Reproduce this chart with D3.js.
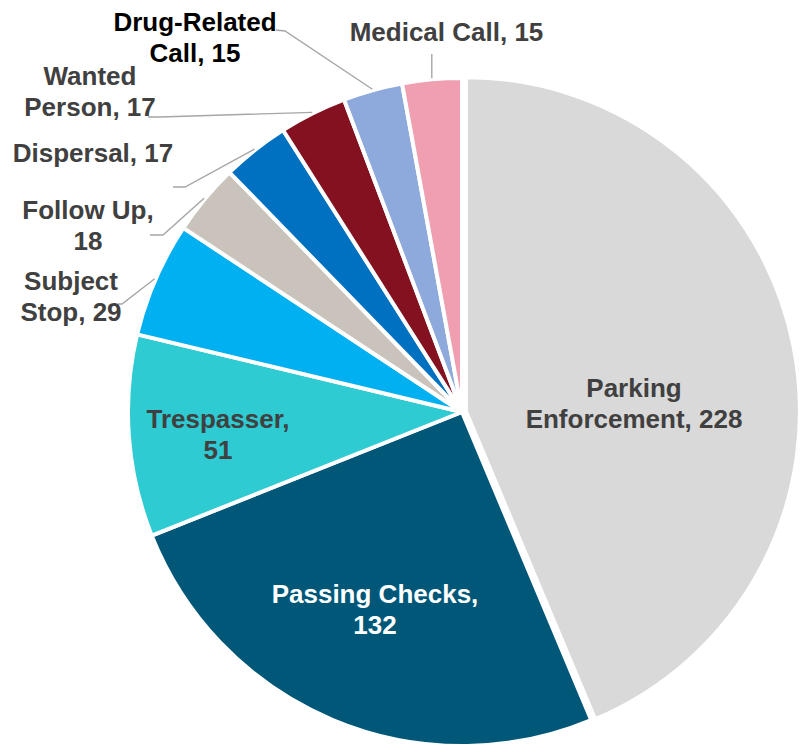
<!DOCTYPE html>
<html>
<head>
<meta charset="utf-8">
<script src="https://cdn.jsdelivr.net/npm/d3@7"></script>
<style>
  html, body { margin: 0; padding: 0; background: #ffffff; }
  svg { display: block; }
  text { font-family: "Liberation Sans", Arial, sans-serif; font-weight: bold; }
</style>
</head>
<body>
<svg id="chart" width="800" height="747"></svg>
<script>
// Call types, clockwise from 12 o'clock
const categories = ["Parking Enforcement", "Passing Checks", "Trespasser", "Subject Stop",
  "Follow Up", "Dispersal", "Wanted Person", "Drug-Related Call", "Medical Call"];
const values = [228, 132, 51, 29, 18, 17, 17, 15, 15];
const colors = ["#d9d9d9", "#005778", "#2ecbd2", "#00b0f0", "#c9c3bc",
  "#0070c0", "#84111f", "#8eaadc", "#f09fb1"];
const labelColors = ["#404040", "#ffffff", "#404040", "#404040", "#404040",
  "#404040", "#404040", "#000000", "#404040"];

// Label placement relative to the pie centre: x = text centre, y = first baseline,
// words = how many words go on the first line, leader = elbow points of the leader line
const labelLayout = [
  { x: 172, y: -15, words: 1 },
  { x: -87, y: 191, words: 2 },
  { x: -244, y: 16, words: 1 },
  { x: -391, y: -122, words: 1, leader: [[-344, -108], [-340, -108]] },
  { x: -374, y: -193, words: 2, leader: [[-312, -177], [-299, -177]] },
  { x: -369, y: -250, words: 9, leader: [[-289, -225], [-277, -225]] },
  { x: -372, y: -327, words: 1, leader: [[-314, -295], [-302, -295]] },
  { x: -267, y: -381, words: 1, leader: [[-186, -382], [-177, -381]] },
  { x: -15.5, y: -371, words: 9, leader: [[null, -358]] }
];

const cx = 462, cy = 412, R = 334, explode = 4, lineHeight = 31;

const svg = d3.select("#chart");
const g = svg.append("g").attr("transform", `translate(${cx},${cy})`);

const data = categories.map((c, i) => ({ category: c, value: values[i], i }));
const pie = d3.pie().sort(null).value(d => d.value);
const arcs = pie(data);
const arc = d3.arc().innerRadius(0).outerRadius(R);

// Slices (first one pulled slightly out)
g.selectAll("path.slice")
  .data(arcs)
  .join("path")
  .attr("class", "slice")
  .attr("d", arc)
  .attr("fill", d => colors[d.data.i])
  .attr("stroke", "#ffffff")
  .attr("stroke-width", 4)
  .attr("stroke-linejoin", "round")
  .attr("transform", d => {
    if (d.data.i !== 0) return null;
    const a = (d.startAngle + d.endAngle) / 2;
    return `translate(${explode * Math.sin(a)},${-explode * Math.cos(a)})`;
  });

// Leader lines from outside labels to slice edge
const line = d3.line();
g.selectAll("path.leader")
  .data(arcs.filter(d => labelLayout[d.data.i].leader))
  .join("path")
  .attr("class", "leader")
  .attr("fill", "none")
  .attr("stroke", "#a6a6a6")
  .attr("stroke-width", 1.4)
  .attr("d", d => {
    const a = (d.startAngle + d.endAngle) / 2;
    const end = [(R + 1) * Math.sin(a), -(R + 1) * Math.cos(a)];
    const pts = labelLayout[d.data.i].leader.map(p => [p[0] === null ? end[0] : p[0], p[1]]);
    return line([...pts, end]);
  });

// Data labels
const labels = g.selectAll("text.label")
  .data(arcs)
  .join("text")
  .attr("class", "label")
  .attr("text-anchor", "middle")
  .attr("font-size", 26)
  .attr("fill", d => labelColors[d.data.i])
  .attr("x", d => labelLayout[d.data.i].x)
  .attr("y", d => labelLayout[d.data.i].y);

labels.each(function(d) {
  const L = labelLayout[d.data.i];
  const words = `${d.data.category}, ${d.data.value}`.split(" ");
  const first = words.slice(0, L.words).join(" ");
  const rest = words.slice(L.words).join(" ");
  const t = d3.select(this);
  t.append("tspan").attr("x", L.x).attr("y", L.y).text(first);
  if (rest) t.append("tspan").attr("x", L.x).attr("y", L.y + lineHeight).text(rest);
});
</script>
</body>
</html>
